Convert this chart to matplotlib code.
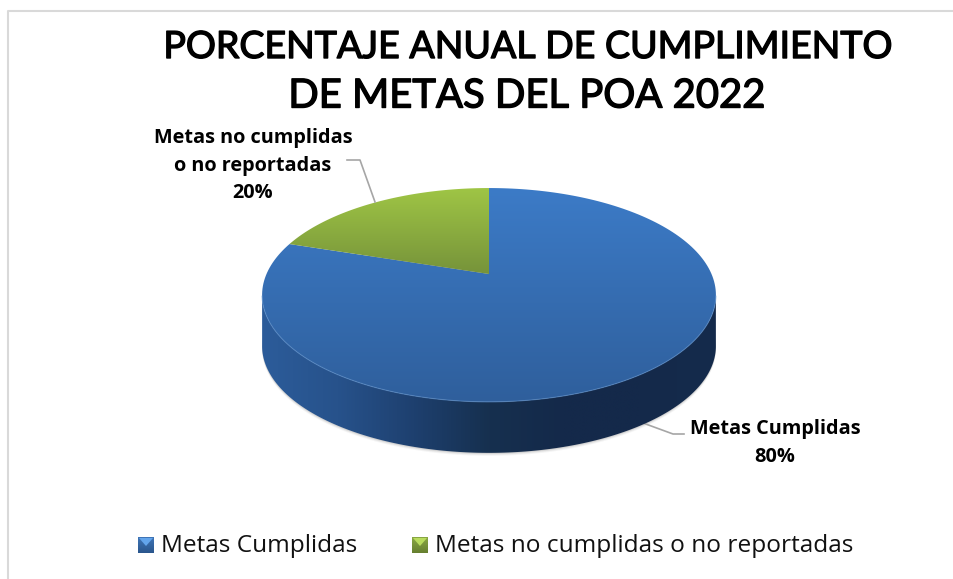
import matplotlib.pyplot as plt
import matplotlib.patheffects as pe
import numpy as np
from matplotlib.colors import LinearSegmentedColormap
from matplotlib.patches import Polygon

# Shares of the pie
categories = ['Metas Cumplidas', 'Metas no cumplidas o no reportadas']
point_labels = ['Metas Cumplidas\n80%', 'Metas no cumplidas\no no reportadas\n20%']
values = [80, 20]

title_lines = ['PORCENTAJE ANUAL DE CUMPLIMIENTO', 'DE METAS DEL POA 2022']

# Pie geometry in pixels, with a perspective tilt
cx, cy = 489, 274
radius = 222.5
persp = 0.196
tilt = -49.1
depth = 51


def project(u, v):
    w = 1 + persp * v
    return cx + radius * u / w, (tilt * v + cy) / w


def wedge_points(start, end, n=200):
    # angles are measured clockwise from the top, as fractions of the circle
    t = np.linspace(start, end, n) * 2 * np.pi
    x, y = project(np.sin(t), np.cos(t))
    return x, y


def fill_gradient(ax, poly_xy, colors, box, horizontal=False, zorder=3):
    cmap = LinearSegmentedColormap.from_list('g', colors)
    grad = np.linspace(0, 1, 256)
    grad = grad.reshape(1, -1) if horizontal else grad.reshape(-1, 1)
    im = ax.imshow(grad, cmap=cmap, extent=box, aspect='auto', zorder=zorder, interpolation='bilinear')
    patch = Polygon(poly_xy, closed=True, transform=ax.transData, fc='none', ec='none')
    ax.add_patch(patch)
    im.set_clip_path(patch)


fig = plt.figure(figsize=(9.54, 5.79), dpi=100)
ax = fig.add_axes([0, 0, 1, 1])
ax.set_xlim(0, 954)
ax.set_ylim(579, 0)
ax.axis('off')

# Chart frame
ax.plot([8.5, 8.5, 954], [579, 10.5, 10.5], color='#d9d9d9', lw=1.5, zorder=1)

share = np.array(values) / sum(values)
x_full, y_full = wedge_points(0, 1, 400)

# Soft shadow below the wall
for grow, alpha in [(3, 0.05), (2, 0.08), (1, 0.12)]:
    ax.fill(x_full, y_full + depth + grow, color='#404040', alpha=alpha, lw=0, zorder=2)

# Wall of the pie: lower half of the outline moved down
order = np.argsort(x_full)
xs = x_full[order]
ys = y_full[order]
keep = ys >= (cy + 21) - 0.5
xs, ys = xs[keep], ys[keep]
wall = np.column_stack([np.r_[xs, xs[::-1]], np.r_[ys, (ys + depth)[::-1]]])
fill_gradient(ax, wall, ['#2c5c9a', '#27528b', '#1e406f', '#16304f', '#14294a', '#14294a', '#152b4c'],
              (262, 716, 460, 290), horizontal=True)

# Top face, one wedge per category
blue_x, blue_y = wedge_points(0, share[0])
blue = np.column_stack([np.r_[cx, blue_x], np.r_[cy, blue_y]])
fill_gradient(ax, blue, ['#3c7bc7', '#2f5f9c'], (262, 716, 402, 188))

green_x, green_y = wedge_points(share[0], 1)
green = np.column_stack([np.r_[cx, green_x], np.r_[cy, green_y]])
fill_gradient(ax, green, ['#9fc545', '#76933a'], (262, 716, 274, 188))

# Light rim on the front edge of the top face
ax.plot(xs, ys, color='#5b8fcc', lw=0.8, alpha=0.6, zorder=4)

# Leader lines
ax.plot([347, 360, 375], [160, 160, 202], color='#a6a6a6', lw=1.2, zorder=4)
ax.plot([643, 673, 684], [423, 434, 434], color='#a6a6a6', lw=1.2, zorder=2)

# Data labels
ax.text(253, 166, point_labels[1], fontfamily='Open Sans', fontweight='bold', fontsize=14.3,
        ha='center', va='center', linespacing=1.5, color='black', zorder=5)
ax.text(775, 443, point_labels[0], fontfamily='Open Sans', fontweight='bold', fontsize=14.3,
        ha='center', va='center', linespacing=1.5, color='black', zorder=5)

# Title, the second line runs a bit wider in the reference
for line, y, size in zip(title_lines, [47, 96], [27, 28.8]):
    ax.text(527, y, line, fontfamily='Lato', fontsize=size, ha='center', va='center',
            color='black', zorder=5,
            path_effects=[pe.withStroke(linewidth=1.0, foreground='black')])

# Legend
legend_x = [138, 412]
legend_colors = [['#63a5ec', '#3f76b8', '#2a558c'], ['#b9dc5e', '#8aa843', '#667f30']]
for name, lx, cols in zip(categories, legend_x, legend_colors):
    box = np.array([[lx, 537], [lx + 16, 537], [lx + 16, 553], [lx, 553]])
    fill_gradient(ax, box, [cols[1], cols[2]], (lx, lx + 16, 553, 537))
    notch = np.array([[lx + 1, 538], [lx + 15, 538], [lx + 8, 546]])
    fill_gradient(ax, notch, [cols[0], cols[0]], (lx, lx + 16, 546, 538), zorder=4)
    ax.text(lx + 23, 546, name, fontfamily='Open Sans', fontsize=17.6, ha='left', va='center',
            color='#111111', zorder=5)

ax.set_xlim(0, 954)
ax.set_ylim(579, 0)
fig.savefig('out.png', dpi=100, facecolor='white')
